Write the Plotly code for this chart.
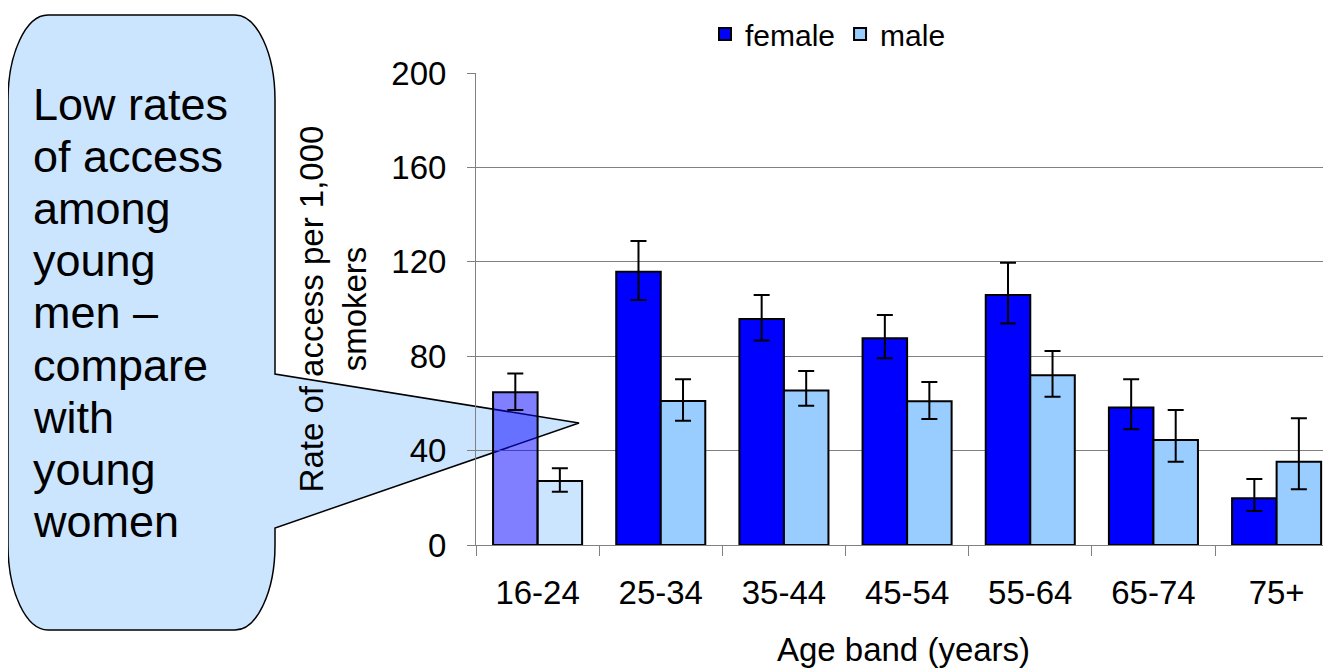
import plotly.graph_objects as go

# age bands and rates of access per 1,000 smokers
age_bands = ["16-24", "25-34", "35-44", "45-54", "55-64", "65-74", "75+"]
female = [64.7, 115.8, 95.8, 87.6, 105.9, 58.3, 19.8]
female_plus = [8.0, 13.0, 10.1, 9.9, 13.7, 11.9, 8.2]
female_minus = [7.5, 12.0, 9.2, 8.5, 12.0, 9.3, 5.4]
male = [27.1, 61.0, 65.5, 60.9, 71.9, 44.5, 35.3]
male_plus = [5.4, 9.2, 8.2, 8.2, 10.3, 12.7, 18.4]
male_minus = [4.5, 8.3, 6.5, 7.5, 9.1, 9.2, 11.7]

callout_lines = ["Low rates", "of access", "among", "young", "men –",
                 "compare", "with", "young", "women"]

FONT = "Arial, Liberation Sans, sans-serif"
# the page body has an 8px margin, so the figure starts at (8, 8) of the window
OFF = 8
W, H = 1331 - OFF, 669 - OFF
# plot area in window pixels: x 476..1331, y 73..545
L, R, T, B = 476 - OFF, 0, 73 - OFF, 669 - 545
PW, PH = W - L - R, H - T - B


def px(x):
    return (x - OFF - L) / PW


def py(y):
    return (545 - y) / PH


def P(x, y):
    return f"{px(x):.5f},{py(y):.5f}"


# the first age band is highlighted (half transparent) in the original
female_colors = ["rgba(0,0,255,0.5)"] + ["#0000FF"] * (len(age_bands) - 1)
male_colors = ["rgba(153,204,255,0.5)"] + ["#99CCFF"] * (len(age_bands) - 1)

fig = go.Figure()
fig.add_trace(go.Bar(
    x=age_bands, y=female, name="female", offsetgroup="f", showlegend=False,
    marker={"color": female_colors, "line": {"color": "black", "width": 2}},
    error_y={"type": "data", "symmetric": False, "array": female_plus,
             "arrayminus": female_minus, "color": "black", "thickness": 2, "width": 8},
))
fig.add_trace(go.Bar(
    x=age_bands, y=male, name="male", offsetgroup="m", showlegend=False,
    marker={"color": male_colors, "line": {"color": "black", "width": 2}},
    error_y={"type": "data", "symmetric": False, "array": male_plus,
             "arrayminus": male_minus, "color": "black", "thickness": 2, "width": 8},
))
# legend-only entries with the solid colours
fig.add_trace(go.Bar(x=[age_bands[0]], y=[None], name="female", offsetgroup="f",
                     marker={"color": "#0000FF", "line": {"color": "black", "width": 2}}))
fig.add_trace(go.Bar(x=[age_bands[0]], y=[None], name="male", offsetgroup="m",
                     marker={"color": "#99CCFF", "line": {"color": "black", "width": 2}}))

# speech-bubble callout (pixel outline converted to paper coords)
k = 0.55
x0, x1, y0, y1, rx, ry = 8, 275, 15, 630, 40, 85
path = (
    f"M{P(x0 + rx, y0)} L{P(x1 - rx, y0)} "
    f"C{P(x1 - rx + k * rx, y0)} {P(x1, y0 + ry - k * ry)} {P(x1, y0 + ry)} "
    f"L{P(x1, 374)} L{P(579, 423)} L{P(x1, 528)} L{P(x1, y1 - ry)} "
    f"C{P(x1, y1 - ry + k * ry)} {P(x1 - rx + k * rx, y1)} {P(x1 - rx, y1)} "
    f"L{P(x0 + rx, y1)} "
    f"C{P(x0 + rx - k * rx, y1)} {P(x0, y1 - ry + k * ry)} {P(x0, y1 - ry)} "
    f"L{P(x0, y0 + ry)} "
    f"C{P(x0, y0 + ry - k * ry)} {P(x0 + rx - k * rx, y0)} {P(x0 + rx, y0)} Z"
)
fig.add_shape(type="path", path=path, xref="paper", yref="paper", layer="below",
              fillcolor="#CCE5FF", line={"color": "black", "width": 1.5})

for i, line in enumerate(callout_lines):
    fig.add_annotation(text=line, xref="paper", yref="paper", x=px(31), y=py(104 + 52.2 * i),
                       xanchor="left", yanchor="middle", showarrow=False,
                       font={"family": FONT, "size": 45, "color": "black"})

fig.update_layout(
    width=W, height=H,
    margin={"l": L, "r": R, "t": T, "b": B, "autoexpand": False},
    barmode="group", bargap=0.277, bargroupgap=0,
    paper_bgcolor="white", plot_bgcolor="rgba(0,0,0,0)",
    font={"family": FONT, "size": 33, "color": "black"},
    showlegend=True,
    legend={"orientation": "h", "x": px(828), "xanchor": "center", "y": py(8),
            "yanchor": "top", "font": {"size": 30}, "bgcolor": "rgba(0,0,0,0)",
            "itemwidth": 30, "tracegroupgap": 0},
)
fig.update_xaxes(
    range=[-0.5, (W - R - L) / 123.17 - 0.5],
    showline=True, linecolor="#808080", linewidth=1,
    ticks="outside", tickson="boundaries", ticklen=10, tickcolor="#808080",
    ticklabelstandoff=18, showgrid=False,
    title={"text": "Age band (years)", "standoff": 28, "font": {"size": 33}},
)
fig.update_yaxes(
    range=[0, 200], dtick=40, tick0=0,
    showline=True, linecolor="#808080", linewidth=1,
    ticks="outside", ticklen=8, tickcolor="#808080", ticklabelstandoff=14,
    showgrid=True, gridcolor="#808080", gridwidth=1, zeroline=False,
    title={"text": "Rate of access per 1,000<br>smokers", "standoff": 14, "font": {"size": 33}},
)

fig.write_html("out.html")
